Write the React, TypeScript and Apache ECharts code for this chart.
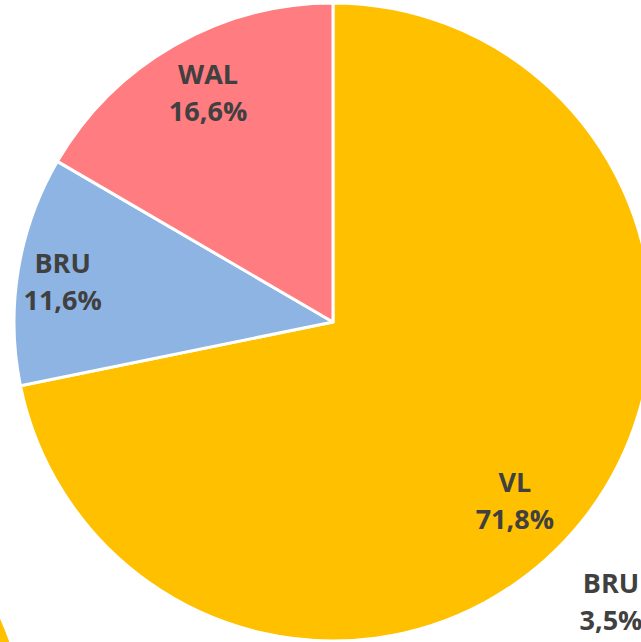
import React, { useEffect, useRef } from "react";
import * as echarts from "echarts";

const categories = ["VL", "BRU", "WAL"];
const shares = [71.8, 11.6, 16.6];
const colors = ["#FFC000", "#8EB4E3", "#FF7C80"];
const labelOffsets: [number, number][] = [
  [56, 75],
  [-110, -15],
  [-44, -89],
];
const neighbourCategories = ["VL", "BRU", "WAL"];
const neighbourShares = [70, 12, 18];
const sideLabel = { name: "BRU", value: "3,5%" };

const fmt = (v: number) => v.toFixed(1).replace(".", ",") + "%";

export default function App() {
  const ref = useRef<HTMLDivElement>(null);
  useEffect(() => {
    if (!ref.current) return;
    const chart = echarts.init(ref.current, null, { renderer: "svg" });
    const font = "'Open Sans', Lato, sans-serif";
    chart.setOption({
      animation: false,
      backgroundColor: "#ffffff",
      series: [
        {
          type: "pie",
          center: [-290, 748],
          radius: 319,
          startAngle: 90,
          clockwise: true,
          silent: true,
          label: { show: false },
          labelLine: { show: false },
          itemStyle: { borderColor: "#fff", borderWidth: 3 },
          data: neighbourCategories.map((c, i) => ({
            name: c,
            value: neighbourShares[i],
            itemStyle: { color: colors[i] },
          })),
        },
        {
          type: "pie",
          center: [333, 322],
          radius: 319,
          startAngle: 90,
          clockwise: true,
          itemStyle: { borderColor: "#fff", borderWidth: 3 },
          labelLine: { show: false },
          label: {
            show: true,
            position: "inside",
            fontFamily: font,
            fontWeight: "bold",
            fontSize: 27,
            lineHeight: 37,
            color: "#404040",
            formatter: (p: any) => `${p.name}\n${fmt(p.value)}`,
          },
          data: categories.map((c, i) => ({
            name: c,
            value: shares[i],
            itemStyle: { color: colors[i] },
            label: { offset: labelOffsets[i] },
          })),
        },
      ],
      graphic: [
        {
          type: "text",
          x: 611,
          y: 601,
          style: {
            text: `${sideLabel.name}\n${sideLabel.value}`,
            font: `bold 27px ${font}`,
            lineHeight: 37,
            fill: "#404040",
            align: "center",
            verticalAlign: "middle",
          },
        },
      ],
    });
    return () => chart.dispose();
  }, []);
  return (
    <div
      ref={ref}
      style={{ position: "fixed", left: 0, top: 0, width: 641, height: 642 }}
    />
  );
}
